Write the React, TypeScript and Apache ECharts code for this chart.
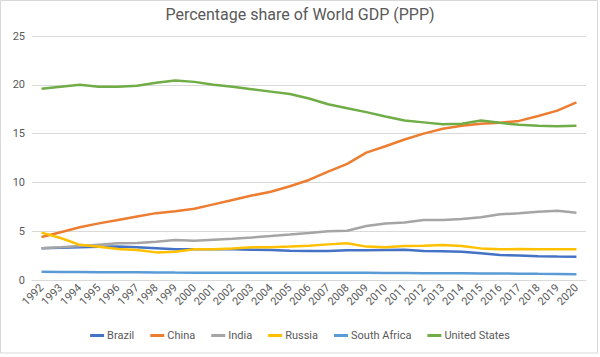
import React, { useEffect, useRef } from "react";
import * as echarts from "echarts";

const years = ["1992","1993","1994","1995","1996","1997","1998","1999","2000","2001","2002","2003","2004","2005","2006","2007","2008","2009","2010","2011","2012","2013","2014","2015","2016","2017","2018","2019","2020"];

const brazil = [3.25,3.3,3.35,3.4,3.42,3.35,3.25,3.14,3.14,3.14,3.14,3.1,3.07,3.0,2.97,2.98,3.04,3.05,3.08,3.1,2.97,2.95,2.9,2.73,2.56,2.5,2.44,2.4,2.39];
const china = [4.4,4.9,5.4,5.8,6.15,6.5,6.85,7.05,7.3,7.75,8.2,8.65,9.05,9.6,10.25,11.1,11.9,13.05,13.7,14.4,15.0,15.5,15.8,16.0,16.1,16.3,16.8,17.35,18.2];
const india = [3.25,3.35,3.48,3.62,3.76,3.8,3.93,4.1,4.03,4.13,4.23,4.36,4.5,4.65,4.82,5.0,5.05,5.53,5.8,5.9,6.15,6.15,6.25,6.42,6.73,6.83,7.0,7.1,6.9];
const russia = [4.85,4.3,3.6,3.4,3.18,3.07,2.83,2.9,3.14,3.14,3.24,3.35,3.35,3.42,3.52,3.65,3.76,3.42,3.35,3.48,3.52,3.59,3.48,3.24,3.14,3.18,3.14,3.14,3.14];
const southAfrica = [0.85,0.82,0.81,0.8,0.8,0.79,0.78,0.76,0.75,0.75,0.75,0.75,0.75,0.75,0.75,0.75,0.75,0.74,0.73,0.72,0.7,0.69,0.68,0.67,0.66,0.65,0.63,0.62,0.6];
const unitedStates = [19.6,19.8,20.0,19.8,19.8,19.9,20.2,20.45,20.3,20.0,19.8,19.55,19.3,19.05,18.6,18.0,17.6,17.2,16.75,16.35,16.15,15.95,16.0,16.35,16.1,15.9,15.8,15.75,15.8];

const seriesNames = ["Brazil","China","India","Russia","South Africa","United States"];
const seriesData = [brazil, china, india, russia, southAfrica, unitedStates];
const colors = ["#4472C4","#ED7D31","#A5A5A5","#FFC000","#5B9BD5","#70AD47"];

const FONT = "Roboto, 'Noto Sans', sans-serif";

export default function App() {
  const ref = useRef<HTMLDivElement>(null);
  useEffect(() => {
    if (!ref.current) return;
    const chart = echarts.init(ref.current, undefined, { renderer: "svg" });
    chart.setOption({
      animation: false,
      backgroundColor: "#ffffff",
      color: colors,
      textStyle: { fontFamily: FONT },
      title: {
        text: "Percentage share of World GDP (PPP)",
        left: "center",
        top: 1,
        textStyle: { fontFamily: FONT, fontSize: 16, fontWeight: "normal", color: "#595959" },
      },
      graphic: [
        {
          type: "rect",
          shape: { x: 0.5, y: 0.5, width: 597, height: 352.5 },
          style: { fill: "none", stroke: "#d9d9d9", lineWidth: 1 },
          silent: true,
        },
      ],
      legend: {
        bottom: 11,
        left: "center",
        itemWidth: 14,
        itemHeight: 3,
        itemGap: 16,
        icon: "rect",
        textStyle: { fontFamily: FONT, fontSize: 11, color: "#595959", padding: [0, 0, 0, -2] },
        data: seriesNames,
      },
      grid: { left: 32, right: 14, top: 36, bottom: 77, containLabel: false },
      xAxis: {
        type: "category",
        data: years,
        boundaryGap: true,
        axisLine: { show: true, lineStyle: { color: "#d9d9d9" } },
        axisTick: { show: false },
        axisLabel: { rotate: 45, interval: 0, fontSize: 11, color: "#595959", margin: 6, fontFamily: FONT },
      },
      yAxis: {
        type: "value",
        min: 0,
        max: 25,
        interval: 5,
        axisLine: { show: false },
        axisTick: { show: false },
        axisLabel: { fontSize: 11, color: "#595959", margin: 7, fontFamily: FONT },
        splitLine: { lineStyle: { color: "#d9d9d9", width: 1 } },
      },
      series: seriesNames.map((name, i) => ({
        name,
        type: "line",
        data: seriesData[i],
        symbol: "none",
        lineStyle: { width: 2.5, color: colors[i] },
        itemStyle: { color: colors[i] },
      })),
    });
    return () => chart.dispose();
  }, []);
  return <div ref={ref} style={{ position: "absolute", left: 0, top: 0, width: 600, height: 357 }} />;
}
